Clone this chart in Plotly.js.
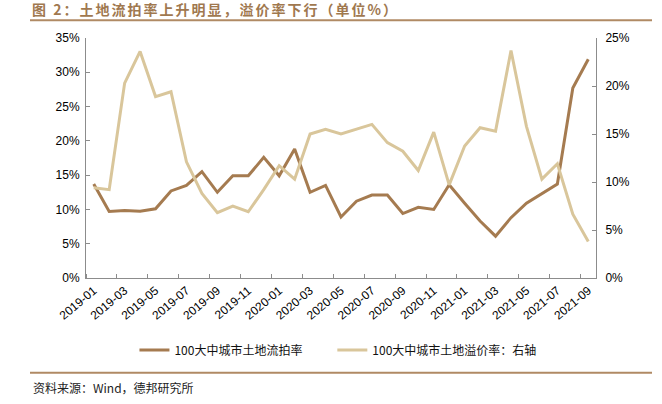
<!DOCTYPE html>
<html>
<head>
<meta charset="utf-8">
<script src="https://cdn.plot.ly/plotly-3.0.1.min.js"></script>
<style>html,body{margin:0;padding:0;background:#fff;}#chart{width:662px;height:404px;}</style>
</head>
<body>
<div id="chart"></div>
<script>
const months = ["2019-01","2019-02","2019-03","2019-04","2019-05","2019-06","2019-07","2019-08","2019-09","2019-10","2019-11","2019-12",
"2020-01","2020-02","2020-03","2020-04","2020-05","2020-06","2020-07","2020-08","2020-09","2020-10","2020-11","2020-12",
"2021-01","2021-02","2021-03","2021-04","2021-05","2021-06","2021-07","2021-08","2021-09"];
const failRate = [13.7,9.7,9.85,9.75,10.1,12.7,13.5,15.5,12.5,14.9,14.9,17.6,
14.9,18.8,12.5,13.5,8.9,11.2,12.1,12.1,9.4,10.3,10.0,
13.6,10.9,8.3,6.1,8.8,10.9,12.3,13.7,27.7,31.9];
const premiumRate = [9.4,9.2,20.3,23.6,18.9,19.4,12.1,8.8,6.8,7.5,6.9,9.2,
11.7,10.3,15.0,15.5,15.0,15.5,16.0,14.1,13.2,11.2,15.2,
9.7,13.75,15.65,15.3,23.7,15.8,10.3,11.9,6.65,3.8];
const seriesNames = ["100大中城市土地流拍率","100大中城市土地溢价率：右轴"];
const titleText = "图 2：土地流拍率上升明显，溢价率下行（单位%）";
const sourceText = "资料来源：Wind，德邦研究所";

const idx = months.map((m,i)=>i);
const labelIdx = idx.filter(i=>i%2===0);
const labelText = labelIdx.map(i=>months[i]);
const boundaryTicks = labelIdx.map(i=>i-0.5);

const cjk = '"Noto Sans CJK SC", "Liberation Sans", Arial, sans-serif';
const lat = '"Liberation Sans", Arial, sans-serif';

const traces = [
  {x: idx, y: failRate, name: seriesNames[0], type:'scatter', mode:'lines',
   line:{color:'#a57b50', width:3}, yaxis:'y', legend:'legend'},
  {x: idx, y: premiumRate, name: seriesNames[1], type:'scatter', mode:'lines',
   line:{color:'#d9c69b', width:3}, yaxis:'y2', legend:'legend2'}
];

const axisColor = '#8c8c8c';
const legendBase = {orientation:'h', xanchor:'left', y:-0.3, yanchor:'middle',
    font:{family:cjk, size:12, color:'#111'}, bgcolor:'rgba(0,0,0,0)', itemwidth:30};
const layout = {
  width:662, height:404,
  margin:{l:86, r:66, t:38, b:126},
  paper_bgcolor:'#fff', plot_bgcolor:'#fff',
  showlegend:true,
  font:{family:lat, size:12, color:'#000'},
  xaxis:{
    range:[-0.5, months.length-0.5], showgrid:false, zeroline:false,
    showline:true, linecolor:axisColor, linewidth:1,
    tickmode:'array', tickvals:labelIdx, ticktext:labelText, ticks:'',
    tickangle:-40, tickfont:{family:lat, size:12, color:'#000'},
    minor:{tickmode:'array', tickvals:boundaryTicks, ticks:'inside', ticklen:4, tickcolor:axisColor, showgrid:false},
    fixedrange:true
  },
  yaxis:{
    range:[0,35], dtick:5, tick0:0, ticksuffix:'%', showgrid:false, zeroline:false,
    showline:true, linecolor:axisColor, linewidth:1, ticks:'inside', ticklen:4, tickcolor:axisColor,
    ticklabelstandoff:3,
    tickfont:{family:lat, size:12, color:'#000'}
  },
  yaxis2:{
    range:[0,25], dtick:5, tick0:0, ticksuffix:'%', overlaying:'y', side:'right',
    showgrid:false, zeroline:false,
    showline:true, linecolor:axisColor, linewidth:1, ticks:'inside', ticklen:4, tickcolor:axisColor,
    ticklabelstandoff:6,
    tickfont:{family:lat, size:12, color:'#000'}
  },
  legend:Object.assign({}, legendBase, {x:0.095}),
  legend2:Object.assign({}, legendBase, {x:0.483}),
  annotations:[
    {text:'<b>'+titleText+'</b>', xref:'paper', yref:'paper', x:-0.109, y:1.12, xanchor:'left', yanchor:'middle',
     showarrow:false, font:{family:cjk, size:14, color:'#a0784f'}},
    {text:sourceText, xref:'paper', yref:'paper', x:-0.107, y:-0.458, xanchor:'left', yanchor:'middle',
     showarrow:false, font:{family:cjk, size:12, color:'#222'}}
  ],
  shapes:[
    {type:'line', xref:'paper', yref:'paper', x0:-0.1098, x1:1.1098, y0:1.0738, y1:1.0738, line:{color:'#b08a64', width:2}},
    {type:'line', xref:'paper', yref:'paper', x0:-0.1098, x1:1.1098, y0:-0.3946, y1:-0.3946, line:{color:'#b08a64', width:2}}
  ]
};
Plotly.newPlot('chart', traces, layout, {displayModeBar:false, staticPlot:true}).then(gd=>{
  const t = gd.querySelector('.annotation[data-index="0"] text.annotation-text') || gd.querySelector('text.annotation-text');
  if (t) {
    const bb = t.getBBox();
    t.setAttribute('text-anchor','start');
    t.setAttribute('x', bb.x);
    t.querySelectorAll('tspan').forEach(s=>{ if (s.hasAttribute('x')) s.setAttribute('x', bb.x); });
    t.style.letterSpacing = '2px';
  }
});
</script>
</body>
</html>
